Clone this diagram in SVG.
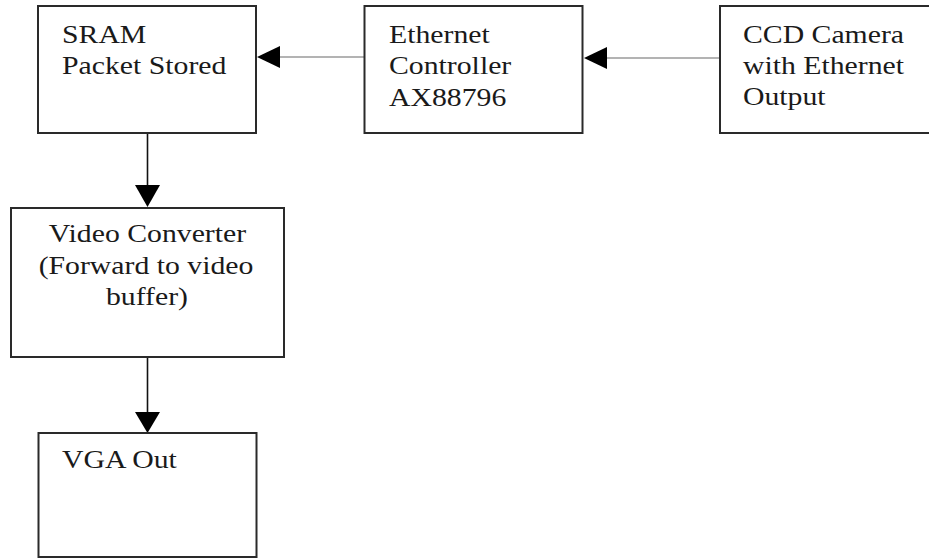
<svg xmlns="http://www.w3.org/2000/svg" width="929" height="558" viewBox="0 0 929 558">
<style>
.box{fill:#fff;stroke:#2a2a2a;stroke-width:2}
.t{font-size:25px;fill:#1a1a1a}
.c{text-anchor:middle}
.h{stroke:#9a9a9a;stroke-width:1.6;fill:none}
.v{stroke:#111;stroke-width:1.6;fill:none}
.ah{fill:#000}
</style>
<rect width="929" height="558" fill="#fff"/>
<g id="connectors">
<line class="h" x1="364" y1="57" x2="280" y2="57"/>
<polygon class="ah" points="257,57 280,46 280,68"/>
<line class="h" x1="720" y1="58" x2="606" y2="58"/>
<polygon class="ah" points="584,58 607,47 607,69"/>
<line class="v" x1="147.5" y1="133" x2="147.5" y2="186"/>
<polygon class="ah" points="147.5,207 135,185 160,185"/>
<line class="v" x1="147.5" y1="357" x2="147.5" y2="413"/>
<polygon class="ah" points="147.5,433 135,412 160,412"/>
</g>
<g font-family="Liberation Serif, Times New Roman, serif">
<g id="sram">
<rect class="box" x="38" y="6" width="218" height="127"/>
<text class="t" transform="translate(62,43) scale(1.19,1)">SRAM</text>
<text class="t" transform="translate(62,74) scale(1.19,1)">Packet Stored</text>
</g>
<g id="ethernet">
<rect class="box" x="364.5" y="6" width="218" height="127"/>
<text class="t" transform="translate(389,43) scale(1.19,1)">Ethernet</text>
<text class="t" transform="translate(389,74) scale(1.19,1)">Controller</text>
<text class="t" transform="translate(389,106) scale(1.19,1)">AX88796</text>
</g>
<g id="camera">
<rect class="box" x="720" y="6" width="220" height="127"/>
<text class="t" transform="translate(743,43) scale(1.19,1)">CCD Camera</text>
<text class="t" transform="translate(743,74) scale(1.19,1)">with Ethernet</text>
<text class="t" transform="translate(743,105) scale(1.19,1)">Output</text>
</g>
<g id="video">
<rect class="box" x="11" y="208" width="273" height="149"/>
<text class="t c" transform="translate(147.5,242) scale(1.19,1)">Video Converter</text>
<text class="t c" transform="translate(146,274) scale(1.19,1)">(Forward to video</text>
<text class="t c" transform="translate(147,305) scale(1.19,1)">buffer)</text>
</g>
<g id="vga">
<rect class="box" x="38.5" y="433" width="218" height="124"/>
<text class="t" transform="translate(62,468) scale(1.19,1)">VGA Out</text>
</g>
</g>
</svg>
